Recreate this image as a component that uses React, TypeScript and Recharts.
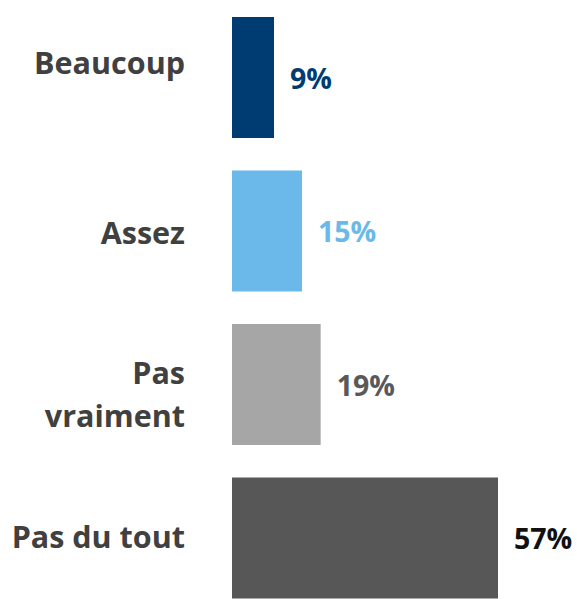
import { BarChart, Bar, XAxis, YAxis, Cell, LabelList } from "recharts";

const categories = ["Beaucoup", "Assez", "Pas vraiment", "Pas du tout"];
const values = [9, 15, 19, 57];
const barColors = ["#003c71", "#6ab9ea", "#a6a6a6", "#575757"];
const labelColors = ["#003c71", "#6ab9ea", "#595959", "#111111"];

const data = categories.map((name, i) => ({ name, value: values[i] }));

const FONT = "'Open Sans', sans-serif";
const LABEL_RIGHT = 185;
// small vertical nudges to match the original layout
const tickShift = [-15, 2, 10, -1];

function CategoryTick(props: any) {
  const { y, payload, index } = props;
  const lines = String(payload.value) === "Pas vraiment" ? ["Pas", "vraiment"] : [String(payload.value)];
  const lineH = 43;
  const start = y + tickShift[index ?? 0] - ((lines.length - 1) * lineH) / 2 + 11;
  return (
    <text textAnchor="end" fontFamily={FONT} fontWeight={700} fontSize={30.5} fill="#404040">
      {lines.map((l, i) => (
        <tspan key={l} x={LABEL_RIGHT} y={start + i * lineH}>
          {l}
        </tspan>
      ))}
    </text>
  );
}

function ValueLabel(props: any) {
  const { x, y, width, height, value, index } = props;
  const i = index ?? values.indexOf(Number(value));
  return (
    <text
      x={Number(x) + Number(width) + 16}
      y={Number(y) + Number(height) / 2}
      dominantBaseline="central"
      fontFamily={FONT}
      fontWeight={700}
      fontSize={28.5}
      fill={labelColors[i]}
    >
      {value}%
    </text>
  );
}

export default function App() {
  return (
    <div style={{ position: "absolute", left: 0, top: 0, width: 577, height: 599, overflow: "hidden", background: "#fff" }}>
      <BarChart width={577} height={615} data={data} layout="vertical" margin={{ top: 1, right: 79, bottom: 0, left: 0 }}>
        <XAxis type="number" domain={[0, 57]} hide />
        <YAxis type="category" dataKey="name" width={232} axisLine={false} tickLine={false} tick={<CategoryTick />} interval={0} />
        <Bar dataKey="value" barSize={121} isAnimationActive={false}>
          {data.map((d, i) => (
            <Cell key={d.name} fill={barColors[i]} />
          ))}
          <LabelList dataKey="value" content={<ValueLabel />} />
        </Bar>
      </BarChart>
    </div>
  );
}
